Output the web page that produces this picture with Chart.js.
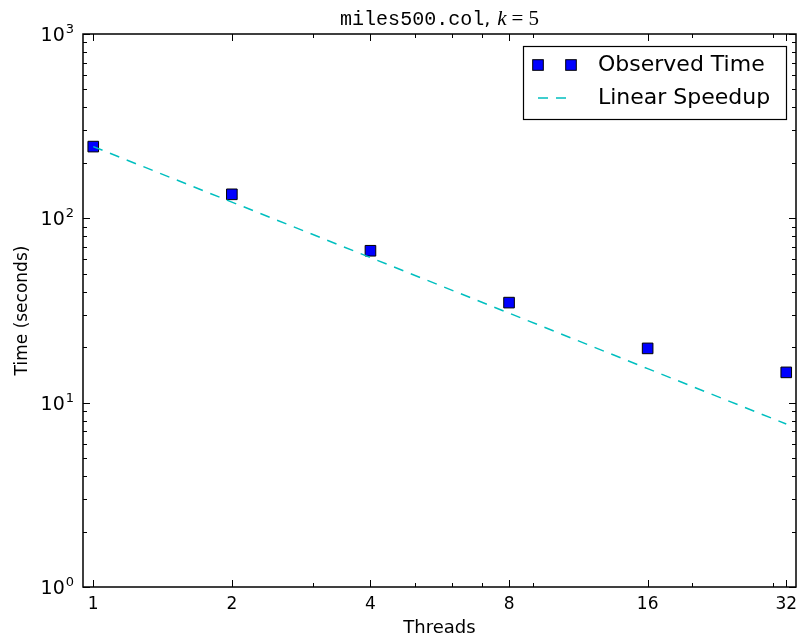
<!DOCTYPE html>
<html><head><meta charset="utf-8">
<script src="https://cdn.jsdelivr.net/npm/chart.js@4.4.1/dist/chart.umd.min.js"></script>
<style>html,body{margin:0;padding:0;background:#fff}#wrap{width:801px;height:643px}</style>
</head><body><div id="wrap"><canvas id="c" width="801" height="643"></canvas></div>
<script>
const threads = [1, 2, 4, 8, 16, 32];
const observedTime = [245, 135, 66.7, 34.9, 19.7, 14.6];
const linearSpeedup = [245, 122.5, 61.25, 30.6, 15.3, 7.66];
const xTickValues = [1, 2, 4, 8, 16, 32];
const xTickLabels = ['1', '2', '4', '8', '16', '32'];
const xMinorTickValues = [3, 5, 6, 7, 9, 20, 30];
const yTickValues = [1, 10, 100, 1000];
const yTickExponents = ['0', '1', '2', '3'];
const yMinorTickValues = [2, 3, 4, 5, 6, 7, 8, 9, 20, 30, 40, 50, 60, 70, 80, 90, 200, 300, 400, 500, 600, 700, 800, 900];
const titleParts = ['miles500.col', ', ', 'k', '=', '5'];
const xTitle = 'Threads';
const yTitle = 'Time (seconds)';

const LINE_COLOR = '#00bfbf';
const MARK_COLOR = '#0000ff';

const decorPlugin = {
  id: 'decor',
  afterDraw(chart) {
    const ctx = chart.ctx;
    const a = chart.chartArea;
    const xs = chart.scales.x, ys = chart.scales.y;
    ctx.save();
    // frame
    ctx.strokeStyle = '#000';
    ctx.lineWidth = 1.5;
    ctx.strokeRect(a.left, a.top, a.right - a.left, a.bottom - a.top);
    // ticks
    ctx.lineWidth = 1;
    const tick = (x1, y1, x2, y2) => { ctx.beginPath(); ctx.moveTo(x1, y1); ctx.lineTo(x2, y2); ctx.stroke(); };
    xTickValues.forEach(v => { const p = Math.round(xs.getPixelForValue(v)) + 0.5; tick(p, a.bottom, p, a.bottom - 7); tick(p, a.top, p, a.top + 7); });
    xMinorTickValues.forEach(v => { const p = Math.round(xs.getPixelForValue(v)) + 0.5; tick(p, a.bottom, p, a.bottom - 4); tick(p, a.top, p, a.top + 4); });
    yTickValues.forEach(v => { const p = Math.round(ys.getPixelForValue(v)) + 0.5; tick(a.left, p, a.left + 7, p); tick(a.right, p, a.right - 7, p); });
    yMinorTickValues.forEach(v => { const p = Math.round(ys.getPixelForValue(v)) + 0.5; tick(a.left, p, a.left + 4, p); tick(a.right, p, a.right - 4, p); });
    // y tick labels with superscripts
    ctx.fillStyle = '#000';
    ctx.textBaseline = 'alphabetic';
    yTickValues.forEach((v, i) => {
      const p = ys.getPixelForValue(v);
      ctx.font = '13px "DejaVu Sans"';
      const ew = ctx.measureText(yTickExponents[i]).width;
      const expRight = a.left - 9;
      ctx.textAlign = 'right';
      ctx.fillText(yTickExponents[i], expRight, p - 1);
      ctx.font = '19px "DejaVu Sans"';
      ctx.fillText('10', expRight - ew - 1, p + 7);
    });
    // title
    const fonts = ['20px "Liberation Mono"', '19px "DejaVu Sans"', 'italic 21px "Liberation Serif"', '21px "Liberation Serif"', '21px "Liberation Serif"'];
    const gaps = [0, 0, 1, 5, 5];
    let total = 0;
    const widths = titleParts.map((t, i) => { ctx.font = fonts[i]; const w = ctx.measureText(t).width; total += w + gaps[i]; return w; });
    let tx = (a.left + a.right) / 2 - total / 2;
    ctx.textAlign = 'left';
    titleParts.forEach((t, i) => { tx += gaps[i]; ctx.font = fonts[i]; ctx.fillText(t, tx, 25); tx += widths[i]; });
    // legend
    const ds = chart.data.datasets;
    const lx = 523, ly = 46, lw = 263, lh = 73;
    ctx.fillStyle = '#fff';
    ctx.fillRect(lx, ly, lw, lh);
    ctx.strokeStyle = '#000';
    ctx.lineWidth = 1.2;
    ctx.strokeRect(lx + 0.5, ly + 0.5, lw, lh);
    const obs = ds[1], lin = ds[0];
    const half = Math.SQRT1_2 * obs.pointRadius;
    [538, 571].forEach(cx => {
      ctx.fillStyle = obs.backgroundColor;
      ctx.fillRect(cx - half, 65 - half, 2 * half, 2 * half);
      ctx.strokeStyle = obs.borderColor; ctx.lineWidth = obs.borderWidth;
      ctx.strokeRect(cx - half, 65 - half, 2 * half, 2 * half);
    });
    ctx.strokeStyle = lin.borderColor; ctx.lineWidth = lin.borderWidth;
    ctx.setLineDash(lin.borderDash);
    ctx.beginPath(); ctx.moveTo(538, 98); ctx.lineTo(572, 98); ctx.stroke();
    ctx.setLineDash([]);
    ctx.fillStyle = '#000';
    ctx.font = '22px "DejaVu Sans"';
    ctx.textBaseline = 'middle';
    ctx.fillText(obs.label, 598, 65);
    ctx.fillText(lin.label, 598, 98);
    ctx.restore();
  }
};

new Chart(document.getElementById('c'), {
  type: 'scatter',
  data: {
    datasets: [
      {
        label: 'Linear Speedup',
        data: threads.map((t, i) => ({ x: t, y: linearSpeedup[i] })),
        showLine: true,
        borderColor: LINE_COLOR,
        borderWidth: 1.5,
        borderDash: [10, 8],
        pointRadius: 0,
        fill: false
      },
      {
        label: 'Observed Time',
        data: threads.map((t, i) => ({ x: t, y: observedTime[i] })),
        showLine: false,
        pointStyle: 'rect',
        pointRadius: 7.5,
        backgroundColor: MARK_COLOR,
        borderColor: '#000',
        borderWidth: 1
      }
    ]
  },
  options: {
    responsive: false,
    animation: false,
    devicePixelRatio: 1,
    layout: { autoPadding: false, padding: { top: 34, right: 5, left: 0, bottom: 0 } },
    plugins: { legend: { display: false }, title: { display: false }, tooltip: { enabled: false } },
    scales: {
      x: {
        type: 'logarithmic', min: 0.95, max: 33.6,
        grid: { display: false, drawTicks: false }, border: { display: false },
        afterBuildTicks: s => { s.ticks = xTickValues.map(v => ({ value: v })); },
        afterFit: s => { s.height = 56; s.paddingLeft = 0; s.paddingRight = 0; },
        ticks: {
          autoSkip: false, maxRotation: 0, padding: 7, color: '#000',
          font: { family: 'DejaVu Sans', size: 17 },
          callback: (v) => { const i = xTickValues.indexOf(v); return i >= 0 ? xTickLabels[i] : ''; }
        },
        title: { display: true, text: xTitle, color: '#000', font: { family: 'DejaVu Sans', size: 18 }, padding: { top: 0, bottom: 4 } }
      },
      y: {
        type: 'logarithmic', min: 1, max: 1000,
        grid: { display: false, drawTicks: false }, border: { display: false },
        afterBuildTicks: s => { s.ticks = yTickValues.map(v => ({ value: v })); },
        afterFit: s => { s.width = 83; s.paddingTop = 0; s.paddingBottom = 0; },
        ticks: { display: false },
        title: { display: true, text: yTitle, color: '#000', font: { family: 'DejaVu Sans', size: 17 }, padding: { top: 12, bottom: 0 } }
      }
    }
  },
  plugins: [decorPlugin]
});
</script>
</body></html>
